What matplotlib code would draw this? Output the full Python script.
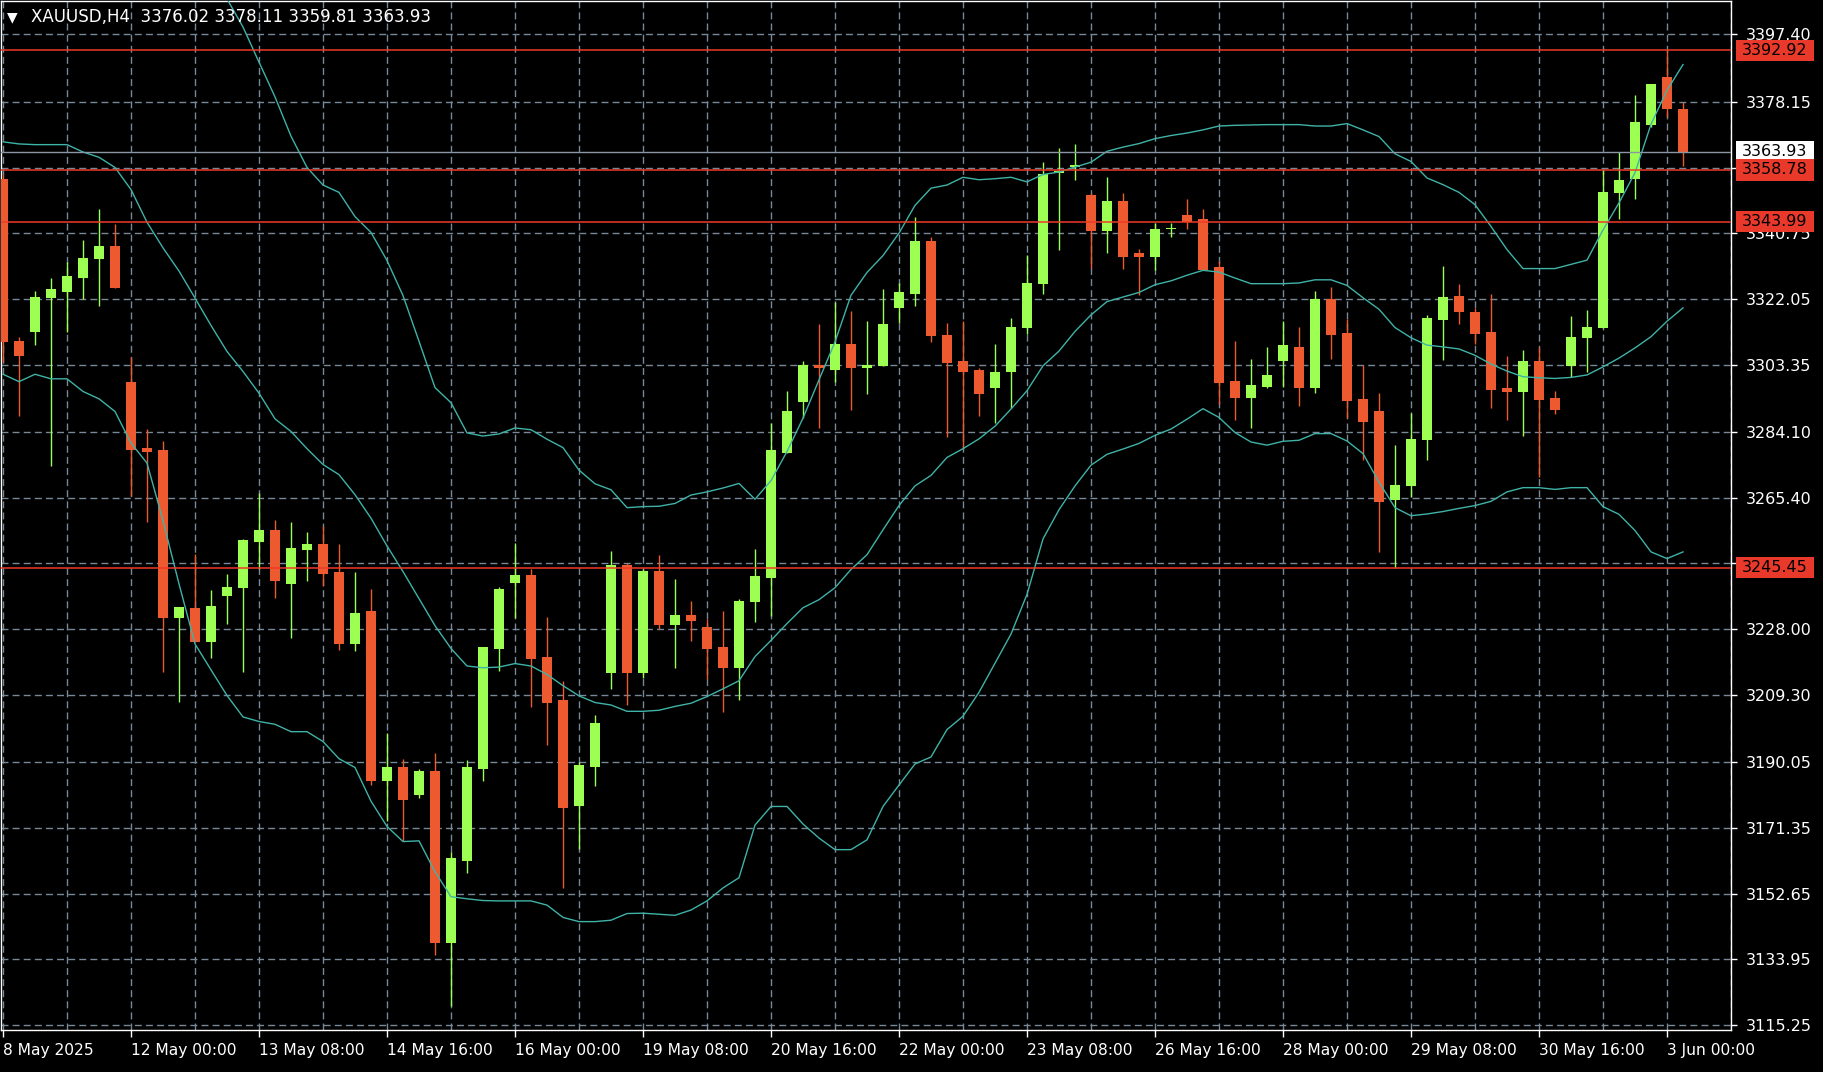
import numpy as np
import matplotlib
matplotlib.use("Agg")
import matplotlib.pyplot as plt
from matplotlib.patches import Rectangle
from matplotlib.transforms import blended_transform_factory

# ---------------- data ----------------
opens = [3356.3, 3310.2, 3312.7, 3322.2, 3324.1, 3328.1, 3333.3, 3337.0, 3298.3, 3279.7,
         3278.9, 3231.3, 3233.9, 3224.4, 3237.5, 3239.8, 3252.9, 3256.2, 3240.9, 3250.6,
         3252.2, 3244.2, 3223.8, 3233.2, 3184.8, 3188.8, 3180.8, 3187.6, 3138.7, 3162.1,
         3188.2, 3222.4, 3241.2, 3243.4, 3220.1, 3207.7, 3177.5, 3188.8, 3215.6, 3246.3,
         3215.6, 3244.6, 3229.2, 3232.1, 3228.7, 3222.9, 3216.9, 3235.6, 3242.6, 3278.3,
         3292.6, 3303.2, 3301.8, 3309.1, 3302.3, 3302.9, 3319.5, 3323.4, 3338.6, 3311.9,
         3304.5, 3301.7, 3296.7, 3301.2, 3313.7, 3326.3, 3357.8, 3359.5, 3351.6, 3341.4,
         3349.9, 3335.1, 3334.0, 3342.0, 3345.9, 3344.8, 3331.1, 3298.7, 3293.7, 3297.1,
         3304.4, 3308.3, 3296.6, 3322.0, 3312.4, 3293.5, 3290.2, 3264.7, 3268.8, 3281.9,
         3316.0, 3322.8, 3318.3, 3312.6, 3296.6, 3295.5, 3304.5, 3293.7, 3303.0, 3311.0,
         3313.9, 3352.1, 3356.1, 3371.5, 3385.2, 3376.02]
highs = [3357.5, 3311.2, 3324.3, 3327.9, 3332.5, 3338.7, 3347.8, 3343.3, 3305.5, 3285.1,
         3281.6, 3234.4, 3249.3, 3239.1, 3243.6, 3253.7, 3266.8, 3259.1, 3258.4, 3255.7,
         3257.3, 3252.2, 3244.2, 3239.4, 3198.4, 3191.1, 3188.2, 3192.8, 3164.4, 3190.6,
         3222.9, 3240.0, 3252.6, 3245.2, 3231.5, 3213.2, 3190.2, 3203.6, 3250.3, 3246.8,
         3245.2, 3249.2, 3242.2, 3236.0, 3230.9, 3233.2, 3236.7, 3250.7, 3286.6, 3295.9,
         3304.5, 3314.8, 3321.1, 3318.7, 3315.9, 3324.9, 3326.7, 3345.4, 3339.8, 3315.3,
         3315.9, 3302.3, 3309.1, 3316.5, 3334.7, 3361.0, 3364.9, 3366.1, 3352.2, 3356.7,
         3352.2, 3336.2, 3343.8, 3343.8, 3350.4, 3347.6, 3332.8, 3310.0, 3305.0, 3308.3,
         3315.7, 3314.1, 3324.3, 3325.4, 3316.4, 3303.2, 3295.3, 3280.4, 3289.6, 3317.6,
         3331.3, 3326.3, 3319.4, 3323.4, 3305.7, 3307.4, 3308.5, 3295.9, 3317.2, 3318.9,
         3358.8, 3363.9, 3380.0, 3383.3, 3392.92, 3378.11]
lows = [3304.2, 3288.8, 3308.8, 3274.6, 3312.7, 3321.9, 3320.1, 3325.3, 3265.8, 3258.6,
        3215.9, 3207.3, 3224.4, 3219.9, 3229.5, 3215.9, 3245.0, 3236.9, 3225.6, 3241.6,
        3240.4, 3222.2, 3221.7, 3183.6, 3173.4, 3167.7, 3179.9, 3135.3, 3120.6, 3158.6,
        3184.8, 3216.1, 3231.2, 3205.9, 3195.1, 3154.2, 3165.5, 3183.2, 3211.0, 3206.5,
        3214.2, 3228.1, 3216.8, 3224.7, 3213.8, 3204.3, 3207.7, 3230.0, 3231.7, 3278.3,
        3288.1, 3285.2, 3298.4, 3290.4, 3294.9, 3302.9, 3315.3, 3320.1, 3309.8, 3282.8,
        3279.4, 3288.7, 3286.6, 3291.0, 3312.1, 3323.4, 3335.9, 3356.0, 3330.9, 3335.1,
        3330.6, 3323.1, 3330.3, 3339.8, 3341.9, 3330.3, 3292.0, 3287.5, 3285.2, 3296.6,
        3297.1, 3291.5, 3295.4, 3305.0, 3288.0, 3276.3, 3250.0, 3245.45, 3265.7, 3276.1,
        3304.6, 3314.9, 3309.2, 3291.0, 3287.6, 3283.0, 3271.2, 3289.3, 3299.9, 3301.1,
        3313.9, 3344.7, 3350.4, 3371.1, 3373.8, 3359.81]
closes = [3309.9, 3305.8, 3322.7, 3325.0, 3328.5, 3333.6, 3337.0, 3325.3, 3279.0, 3278.5,
          3231.3, 3234.4, 3224.4, 3234.6, 3240.1, 3253.4, 3256.2, 3241.6, 3251.1, 3252.2,
          3243.7, 3223.8, 3232.6, 3184.8, 3188.8, 3179.2, 3187.6, 3138.7, 3162.7, 3188.8,
          3222.9, 3239.4, 3243.4, 3219.5, 3207.1, 3177.0, 3189.4, 3201.3, 3246.3, 3215.6,
          3244.6, 3229.2, 3232.1, 3230.3, 3222.4, 3216.8, 3236.1, 3243.0, 3278.9, 3290.2,
          3303.2, 3302.3, 3309.1, 3302.3, 3303.2, 3314.8, 3323.9, 3338.6, 3311.5, 3303.9,
          3301.2, 3294.9, 3301.1, 3314.2, 3326.7, 3357.5, 3358.5, 3360.2, 3341.4, 3349.9,
          3334.0, 3334.0, 3341.9, 3342.3, 3344.1, 3330.3, 3298.1, 3293.7, 3297.6, 3300.4,
          3308.9, 3296.6, 3322.0, 3311.9, 3293.1, 3286.9, 3264.2, 3269.1, 3282.3, 3316.5,
          3322.7, 3318.4, 3312.1, 3296.1, 3295.6, 3304.5, 3293.3, 3290.4, 3311.3, 3314.2,
          3352.4, 3355.9, 3372.4, 3383.3, 3376.02, 3363.93]

nan = float("nan")
bb_upper = [nan] * 14 + [
    3407.5, 3399.5, 3389.5, 3379.6, 3368.4, 3359.5, 3354.5, 3352.4, 3345.5, 3341.0,
    3333.0, 3323.0, 3310.0, 3296.8, 3292.5, 3283.9, 3283.0, 3283.6, 3285.3, 3284.8,
    3282.1, 3279.7, 3273.3, 3269.4, 3267.7, 3262.6, 3262.9, 3263.0, 3263.8, 3266.2,
    3267.1, 3268.2, 3269.5, 3265.0, 3270.3, 3278.6, 3288.1, 3299.0, 3309.8, 3323.1,
    3329.6, 3334.4, 3340.8, 3348.7, 3353.6, 3354.5, 3356.7, 3356.0, 3356.3, 3356.7,
    3355.4, 3357.5, 3358.2, 3359.6, 3361.0, 3364.1, 3365.3, 3366.3, 3367.7, 3368.6,
    3369.3, 3370.2, 3371.3, 3371.5, 3371.6, 3371.7, 3371.7, 3371.7, 3371.3, 3371.3,
    3372.0, 3370.2, 3368.3, 3363.4, 3361.2, 3356.5, 3354.6, 3352.4, 3348.9, 3342.7,
    3336.1, 3330.7, 3330.7, 3330.7, 3331.9, 3333.1, 3341.7, 3349.4, 3358.0, 3371.8,
    3381.5, 3388.8]
bb_middle = [
    3366.8, 3366.2, 3366.0, 3366.0, 3366.0, 3363.9, 3362.4, 3359.5, 3353.2, 3343.9,
    3336.6, 3330.0, 3322.3, 3314.5, 3307.1, 3301.4, 3295.2, 3287.9, 3284.3, 3279.4,
    3274.9, 3272.0, 3266.3, 3259.6, 3251.7, 3244.4, 3236.7, 3229.0, 3222.5, 3217.5,
    3217.0, 3217.2, 3218.2, 3217.5, 3215.1, 3211.9, 3209.0, 3207.1, 3206.4, 3204.6,
    3204.6, 3204.9, 3206.0, 3206.9, 3208.8, 3211.0, 3213.3, 3220.2, 3224.8, 3229.6,
    3234.1, 3236.4, 3239.8, 3245.0, 3249.2, 3256.3, 3263.2, 3268.8, 3271.8, 3276.9,
    3279.4, 3282.2, 3285.8, 3290.7, 3295.9, 3303.0, 3307.2, 3312.8, 3317.5, 3321.3,
    3322.6, 3323.9, 3326.1, 3327.2, 3328.8, 3330.2, 3329.7, 3328.0, 3326.4, 3326.4,
    3326.4, 3326.6, 3327.5, 3327.5, 3325.9, 3322.4, 3319.1, 3313.9, 3311.0, 3308.9,
    3308.4, 3307.8, 3306.0, 3303.5, 3301.5, 3299.9, 3299.6, 3299.4, 3299.7, 3300.4,
    3302.7, 3305.2, 3308.1, 3311.3, 3315.7, 3319.5]
bb_lower = [
    3300.6, 3298.5, 3300.6, 3299.3, 3299.3, 3295.7, 3293.6, 3290.0, 3281.0, 3275.3,
    3258.9, 3240.9, 3223.8, 3216.4, 3209.1, 3203.0, 3201.7, 3200.9, 3198.8, 3198.8,
    3196.0, 3191.1, 3188.6, 3179.0, 3171.8, 3167.5, 3167.7, 3158.9, 3151.8, 3151.2,
    3150.7, 3150.6, 3150.6, 3150.6, 3149.4, 3145.9, 3144.7, 3144.7, 3145.1, 3147.0,
    3147.1, 3146.8, 3146.5, 3148.0, 3150.6, 3154.3, 3157.2, 3172.2, 3177.5, 3177.5,
    3172.5, 3168.5, 3165.2, 3165.2, 3168.0, 3177.5, 3183.6, 3189.6, 3191.6, 3199.4,
    3203.2, 3210.0, 3218.3, 3226.6, 3237.9, 3253.7, 3262.0, 3268.8, 3274.7, 3277.8,
    3279.3, 3280.9, 3283.2, 3285.0, 3287.8, 3290.8, 3288.3, 3284.0, 3281.3, 3280.4,
    3281.5, 3281.8, 3283.7, 3283.7, 3281.6, 3278.0, 3269.9, 3262.6, 3260.3, 3260.8,
    3261.5, 3262.4, 3263.2, 3264.4, 3267.1, 3268.3, 3268.3, 3267.8, 3268.3, 3268.3,
    3262.9, 3260.7, 3256.1, 3250.0, 3248.1, 3250.0]

level_lines = [3392.92, 3358.78, 3343.99, 3245.45]
bid_price = 3363.93

y_ticks = [3397.40, 3378.15, 3359.45, 3340.75, 3322.05, 3303.35, 3284.10, 3265.40,
           3246.70, 3228.00, 3209.30, 3190.05, 3171.35, 3152.65, 3133.95, 3115.25]
# labels of 3359.45 and 3246.70 are fully hidden behind price tags in the reference
y_hidden = [3359.45, 3246.70]
x_tick_bars = [0, 8, 16, 24, 32, 40, 48, 56, 64, 72, 80, 88, 96, 104]
x_tick_labels = ["8 May 2025", "12 May 00:00", "13 May 08:00", "14 May 16:00",
                 "16 May 00:00", "19 May 08:00", "20 May 16:00", "22 May 00:00",
                 "23 May 08:00", "26 May 16:00", "28 May 00:00", "29 May 08:00",
                 "30 May 16:00", "3 Jun 00:00"]
header = "XAUUSD,H4  3376.02 3378.11 3359.81 3363.93"

# ---------------- style ----------------
BG = "#000000"
GRID = "#778899"
UP = "#9dff52"
DOWN = "#ee5a2f"
BAND = "#3fb3a8"
LEVEL = "#f03a28"
BID = "#8a96a3"

W, H = 1824, 1072
fig = plt.figure(figsize=(W / 100, H / 100), dpi=100, facecolor=BG)
ax = fig.add_axes([1 / W, 42 / H, 1730 / W, 1029 / H], facecolor=BG)

n = len(opens)
x = np.arange(n)
o = np.array(opens); c = np.array(closes); hi = np.array(highs); lo = np.array(lows)
up = c >= o
cols = np.where(up, UP, DOWN)

# wicks
ax.vlines(x, lo, hi, colors=cols, linewidth=1.0, zorder=3)
# bodies
body_bottom = np.minimum(o, c)
body_h = np.maximum(np.abs(c - o), 0.35)
ax.bar(x, body_h, bottom=body_bottom, width=0.64, color=cols, linewidth=0, zorder=4)

# Bollinger bands
for band in (bb_upper, bb_middle, bb_lower):
    ax.plot(x, band, color=BAND, linewidth=1.0, zorder=5)

# horizontal levels
for lv in level_lines:
    ax.axhline(lv, color=LEVEL, linewidth=1.1, zorder=6)
ax.axhline(bid_price, color=BID, linewidth=1.0, zorder=6)

# axes limits
ax.set_xlim(-0.125, 108.0)
ax.set_ylim(3113.83, 3406.91)

# grid
ax.set_xticks(x_tick_bars)
ax.set_xticklabels(x_tick_labels)
ax.set_xticks(np.arange(0, 109, 4), minor=True)
ax.set_yticks(y_ticks)
ax.set_yticklabels(["" if v in y_hidden else f"{v:.2f}" for v in y_ticks])
ax.grid(True, which="both", color=GRID, linestyle=(0, (5, 3)), linewidth=1.0, zorder=1)
ax.set_axisbelow(True)

ax.yaxis.tick_right()
ax.tick_params(axis="y", which="major", colors="white", length=4, width=1,
               pad=7, labelsize=11.5, direction="out")
ax.tick_params(axis="x", which="major", colors="white", length=5, width=1,
               pad=4, labelsize=11.2, direction="out")
ax.tick_params(axis="x", which="minor", length=0)
for lab in ax.get_xticklabels():
    lab.set_horizontalalignment("left")
for lab in ax.get_yticklabels():
    lab.set_horizontalalignment("left")

for sp in ax.spines.values():
    sp.set_color("white")
    sp.set_linewidth(1.0)

# price tags on the right axis
tr = blended_transform_factory(ax.transAxes, ax.transData)
box_x0 = 1.0029
box_w = 0.0451
box_h = 6.0
tags = [(bid_price, "white")] + [(lv, "#e8392b") for lv in level_lines]
for price, fc in tags:
    ax.add_patch(Rectangle((box_x0, price - box_h / 2), box_w, box_h, transform=tr,
                           facecolor=fc, edgecolor="none", clip_on=False, zorder=10))
    ax.text(1.0062, price, f"{price:.2f}", transform=tr, ha="left", va="center",
            color="black", fontsize=11.5, clip_on=False, zorder=11)

# header
fig.text(7 / W, 1 - 17 / H, "\u25BC", color="white", fontsize=10, va="center", ha="left")
fig.text(31 / W, 1 - 17 / H, header, color="white", fontsize=12, va="center", ha="left")

fig.savefig("out.png", dpi=100, facecolor=BG)
